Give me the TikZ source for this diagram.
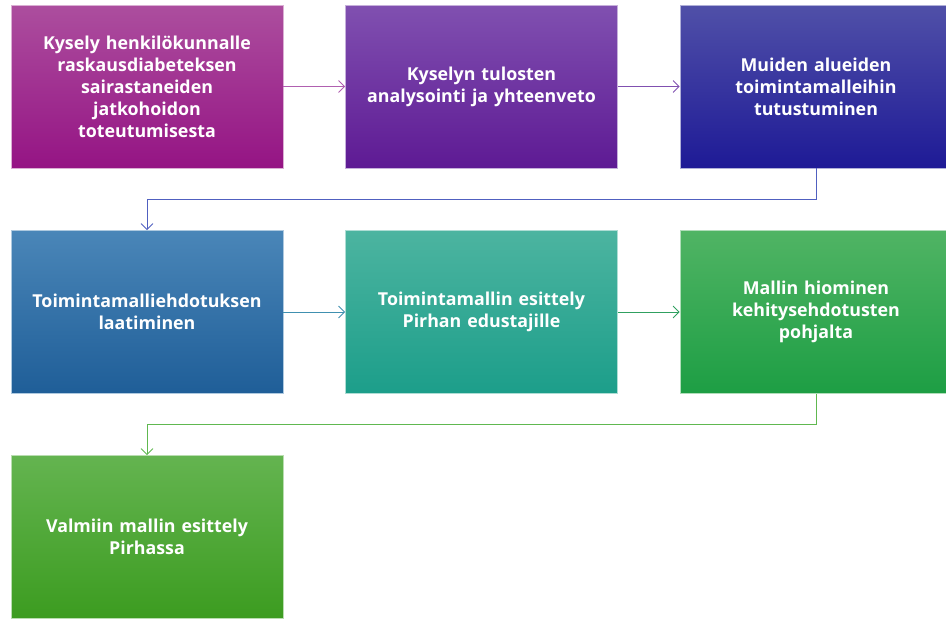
\documentclass[tikz,border=0pt]{standalone}
\usepackage{fontspec}
\setmainfont{Open Sans}
\usetikzlibrary{arrows.meta}
\definecolor{aT}{HTML}{AC4E9E}\definecolor{aB}{HTML}{951484}
\definecolor{bT}{HTML}{8050B0}\definecolor{bB}{HTML}{5E1A94}
\definecolor{cT}{HTML}{5050A8}\definecolor{cB}{HTML}{1E1A96}
\definecolor{dT}{HTML}{4A86B8}\definecolor{dB}{HTML}{1F5E98}
\definecolor{eT}{HTML}{4CB4A0}\definecolor{eB}{HTML}{1C9E8A}
\definecolor{fT}{HTML}{50B464}\definecolor{fB}{HTML}{1D9E44}
\definecolor{gT}{HTML}{64B450}\definecolor{gB}{HTML}{3C9C20}
\definecolor{aA}{HTML}{B060B0}\definecolor{bA}{HTML}{8050B0}
\definecolor{cA}{HTML}{5060C0}\definecolor{dA}{HTML}{4090B0}
\definecolor{eA}{HTML}{30A060}\definecolor{fA}{HTML}{60B850}
\tikzset{
  stepbox/.style 2 args={rectangle, minimum width=272pt, minimum height=163pt, inner sep=0pt,
    top color=#1, bottom color=#2, draw=#1!45!white, line width=0.6pt,
    text=white, font=\fontsize{17.8}{22}\selectfont\bfseries, align=center, text width=262pt},
  conn/.style={line width=0.9pt, -{Straight Barb[length=6pt,width=12pt]}}
}
\begin{document}
\begin{tikzpicture}[x=1pt,y=-1pt]
\useasboundingbox (0,0) rectangle (946,619);
\clip (0,0) rectangle (946,619);
\node[stepbox={aT}{aB}] (n1) at (147,86.5) {Kysely henkilökunnalle\\raskausdiabeteksen\\sairastaneiden\\jatkohoidon\\toteutumisesta};
\node[stepbox={bT}{bB}] (n2) at (481.5,86.5) {Kyselyn tulosten\\analysointi ja yhteenveto};
\node[stepbox={cT}{cB}] (n3) at (816,86.5) {Muiden alueiden\\toimintamalleihin\\tutustuminen};
\node[stepbox={dT}{dB}] (n4) at (147,312) {Toimintamalliehdotuksen\\laatiminen};
\node[stepbox={eT}{eB}] (n5) at (481.5,312) {Toimintamallin esittely\\Pirhan edustajille};
\node[stepbox={fT}{fB}] (n6) at (816,312) {Mallin hiominen\\kehitysehdotusten\\pohjalta};
\node[stepbox={gT}{gB}] (n7) at (147,537) {Valmiin mallin esittely\\Pirhassa};
\draw[conn, aA] (n1) -- (n2);
\draw[conn, bA] (n2) -- (n3);
\draw[conn, cA] (n3.south) -- ++(0,31) -| (n4.north);
\draw[conn, dA] (n4) -- (n5);
\draw[conn, eA] (n5) -- (n6);
\draw[conn, fA] (n6.south) -- ++(0,31) -| (n7.north);
\end{tikzpicture}
\end{document}
